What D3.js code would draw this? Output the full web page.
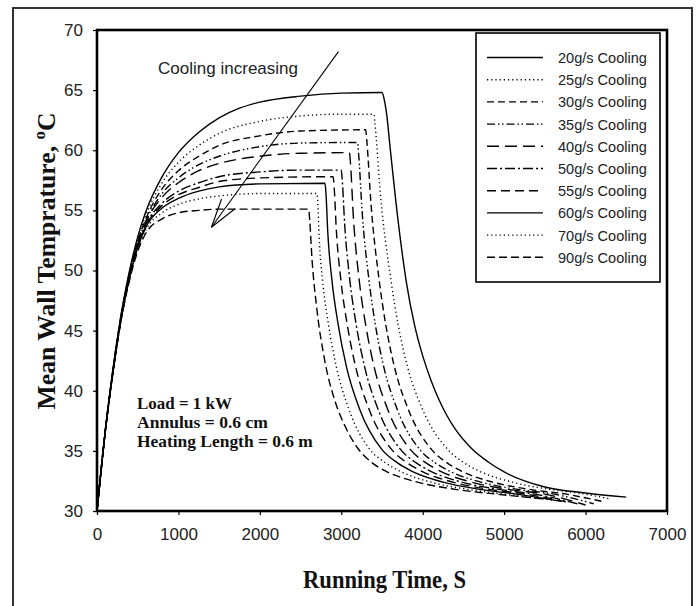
<!DOCTYPE html>
<html><head><meta charset="utf-8">
<script src="https://cdn.jsdelivr.net/npm/d3@7"></script>
<style>body{margin:0;background:#fff}svg{display:block}</style>
</head><body>
<svg id="chart" width="696" height="606"></svg>
<script>
// ---------- data ----------
const seriesNames = ["20g/s Cooling","25g/s Cooling","30g/s Cooling","35g/s Cooling","40g/s Cooling",
  "50g/s Cooling","55g/s Cooling","60g/s Cooling","70g/s Cooling","90g/s Cooling"];
const xTicks = [0,1000,2000,3000,4000,5000,6000,7000];
const yTicks = [30,35,40,45,50,55,60,65,70];

const s20 = [[0,30],[100,36.6],[200,42.0],[300,46.5],[400,50.0],[500,52.8],[600,54.9],[800,57.8],[1000,59.8],[1250,61.5],[1500,62.7],[1750,63.5],[2000,64.0],[2500,64.5],[3000,64.75],[3500,64.8],
  [3525,64.3],[3557,63.0],[3600,60.2],[3700,54.0],[3800,49.0],[3900,45.45],[4000,42.9],[4100,40.9],[4200,39.25],[4300,37.9],[4400,36.8],[4600,35.2],[4800,34.1],[5000,33.25],[5500,32.0],[6000,31.5],[6500,31.15]];
const s25 = [[0,30],[100,36.6],[200,42.0],[300,46.5],[400,49.9],[500,52.6],[600,54.6],[800,57.3],[1000,59.0],[1250,60.4],[1500,61.4],[2000,62.4],[2500,62.85],[3000,63.0],[3400,63.0],
  [3412,62.3],[3484,56.1],[3610,49.2],[3698,45.5],[3813,42.0],[3995,38.5],[4310,35.1],[4510,34.0],[4700,33.3],[5100,32.4],[5560,31.8],[6000,31.4],[6300,31.0]];
const s30 = [[0,30],[100,36.6],[200,41.9],[300,46.4],[400,49.8],[500,52.4],[600,54.3],[800,56.8],[1000,58.3],[1250,59.5],[1500,60.4],[2000,61.2],[2500,61.6],[3300,61.7],
  [3312,60.9],[3366,55.45],[3465,49.2],[3546,45.5],[3652,42.0],[3820,38.5],[4110,35.1],[4300,34.0],[4480,33.3],[4860,32.4],[5310,31.8],[5760,31.4],[6200,30.8]];
const s35 = [[0,30],[100,36.6],[200,41.9],[300,46.3],[400,49.7],[500,52.3],[600,54.1],[800,56.4],[1000,57.7],[1250,58.8],[1500,59.5],[2000,60.3],[2500,60.6],[3200,60.65],
  [3212,59.8],[3256,54.9],[3340,49.2],[3418,45.5],[3521,42.0],[3684,38.5],[3965,35.1],[4155,34.0],[4335,33.3],[4715,32.4],[5165,31.8],[5615,31.4],[6100,30.6]];
const s40 = [[0,30],[100,36.5],[200,41.8],[300,46.2],[400,49.6],[500,52.2],[600,54.0],[800,56.1],[1000,57.3],[1250,58.3],[1500,58.9],[2000,59.5],[2500,59.75],[3100,59.8],
  [3112,59.0],[3148,54.5],[3220,49.2],[3299,45.5],[3403,42.0],[3567,38.5],[3850,35.1],[4040,34.0],[4220,33.3],[4600,32.4],[5050,31.8],[5500,31.4],[6000,30.5]];
const s50 = [[0,30],[100,36.5],[200,41.8],[300,46.2],[400,49.5],[500,52.1],[600,53.8],[800,55.6],[1000,56.6],[1250,57.3],[1500,57.8],[2000,58.2],[2500,58.35],[3000,58.35],
  [3012,57.5],[3042,53.8],[3105,49.2],[3183,45.5],[3286,42.0],[3449,38.5],[3730,35.1],[3920,34.0],[4100,33.3],[4480,32.4],[4930,31.8],[5380,31.4],[5900,30.6]];
const s55 = [[0,30],[100,36.5],[200,41.8],[300,46.1],[400,49.5],[500,52.0],[600,53.7],[800,55.4],[1000,56.3],[1250,56.9],[1500,57.4],[2000,57.7],[2900,57.8],
  [2912,57.0],[2938,53.5],[2995,49.2],[3073,45.5],[3176,42.0],[3339,38.5],[3620,35.1],[3810,34.0],[3990,33.3],[4370,32.4],[4820,31.8],[5270,31.4],[5800,30.7]];
const s60 = [[0,30],[100,36.5],[200,41.7],[300,46.1],[400,49.4],[500,51.9],[600,53.6],[800,55.2],[1000,56.0],[1250,56.6],[1500,56.95],[2000,57.2],[2800,57.25],
  [2812,56.4],[2834,53.2],[2885,49.2],[2962,45.5],[3063,42.0],[3223,38.5],[3500,35.1],[3690,34.0],[3870,33.3],[4250,32.4],[4700,31.8],[5150,31.4],[5700,30.8]];
const s70 = [[0,30],[100,36.5],[200,41.7],[300,46.0],[400,49.3],[500,51.8],[600,53.4],[800,54.8],[1000,55.5],[1250,55.95],[1500,56.2],[2000,56.4],[2700,56.4],
  [2712,55.6],[2728,52.8],[2770,49.2],[2843,45.5],[2939,42.0],[3091,38.5],[3353,35.1],[3543,34.0],[3723,33.3],[4103,32.4],[4553,31.8],[5003,31.4],[5600,30.9]];
const s90 = [[0,30],[100,36.5],[200,41.7],[300,46.0],[400,49.2],[500,51.6],[600,53.1],[800,54.3],[1000,54.8],[1250,55.0],[1500,55.1],[2600,55.1],
  [2612,54.2],[2640,51.0],[2700,46.8],[2800,42.4],[2920,39.2],[3050,37.0],[3205,35.2],[3380,34.0],[3550,33.3],[3880,32.5],[4400,31.8],[4910,31.4],[5500,31.0]];
const allSeries = [s20,s25,s30,s35,s40,s50,s55,s60,s70,s90];

// annotation data (data units)
const arrowFrom = [2965, 68.2];
const arrowTo = [1405, 53.6];
const notes = ["Load = 1 kW","Annulus = 0.6 cm","Heating Length = 0.6 m"];

// ---------- styles ----------
const dashes = ["none","1.2,3","7,4","8,3,1.5,2.5,1.5,3","12,6","10,3,2,3","9,5","none","1.2,3","8,4"];

// ---------- layout ----------
const svg = d3.select("#chart");
const L = 97, R = 667, T = 30, B = 511;
const x = d3.scaleLinear().domain([0,7000]).range([L,R]);
const y = d3.scaleLinear().domain([30,70]).range([B,T]);
const sans = "'Liberation Sans', Arial, sans-serif";
const serif = "'Liberation Serif', 'Times New Roman', serif";

function fit(sel, width){
  sel.each(function(){
    const n = this; const len = n.getComputedTextLength();
    const k = width/len;
    const tr = d3.select(n).attr("transform") || "";
    d3.select(n).attr("transform", tr + ` scale(${k},1)`);
  });
}

// outer frame
svg.append("rect").attr("x",13).attr("y",8).attr("width",679).attr("height",610)
  .attr("fill","none").attr("stroke","#333").attr("stroke-width",2);

// axes
const gy = svg.append("g").attr("transform",`translate(${L},0)`)
  .call(d3.axisLeft(y).tickValues(yTicks).tickSize(4).tickPadding(10).tickSizeOuter(0).tickFormat(d3.format("d")));
const gx = svg.append("g").attr("transform",`translate(0,${B})`)
  .call(d3.axisBottom(x).tickValues(xTicks).tickSize(4).tickPadding(13).tickSizeOuter(0).tickFormat(d3.format("d")));
[gx,gy].forEach(g=>{
  g.select(".domain").remove();
  g.selectAll("line").attr("stroke","#000").attr("stroke-width",1.2);
  g.selectAll("text").attr("font-family",sans).attr("font-size",17).attr("fill","#222");
});

// clip
svg.append("clipPath").attr("id","clip").append("rect").attr("x",L).attr("y",T).attr("width",R-L).attr("height",B-T);

// curves
const line = d3.line().x(d=>x(d[0])).y(d=>y(d[1])).curve(d3.curveMonotoneX);
svg.append("g").attr("clip-path","url(#clip)").selectAll("path").data(allSeries).join("path")
  .attr("d",line).attr("fill","none").attr("stroke","#000").attr("stroke-width",1.4)
  .attr("stroke-dasharray",(d,i)=>dashes[i]);

// plot frame
svg.append("rect").attr("x",L).attr("y",T).attr("width",R-L).attr("height",B-T)
  .attr("fill","none").attr("stroke","#000").attr("stroke-width",2.6);

// legend
const lg = svg.append("g");
lg.append("rect").attr("x",476).attr("y",33).attr("width",184).attr("height",249)
  .attr("fill","#fff").attr("stroke","#000").attr("stroke-width",1.6);
seriesNames.forEach((nm,i)=>{
  const yy = 57.5 + i*22.2;
  lg.append("line").attr("x1",487).attr("x2",543).attr("y1",yy).attr("y2",yy)
    .attr("stroke","#000").attr("stroke-width",1.4).attr("stroke-dasharray",dashes[i]);
  lg.append("text").attr("transform",`translate(558,${yy+5.5})`).attr("font-family",sans)
    .attr("font-size",15).attr("fill","#222").text(nm).call(fit,89);
});

// arrow
const ax1 = x(arrowFrom[0]), ay1 = y(arrowFrom[1]), ax2 = x(arrowTo[0]), ay2 = y(arrowTo[1]);
svg.append("line").attr("x1",ax1).attr("y1",ay1).attr("x2",ax2).attr("y2",ay2)
  .attr("stroke","#000").attr("stroke-width",1.1);
const ang = Math.atan2(ay1-ay2, ax1-ax2);
[-0.28,0.28].forEach(a=>{
  svg.append("line").attr("x1",ax2).attr("y1",ay2)
    .attr("x2",ax2+30*Math.cos(ang+a)).attr("y2",ay2+30*Math.sin(ang+a))
    .attr("stroke","#000").attr("stroke-width",1.1);
});
svg.append("text").attr("transform",`translate(${x(750)},${y(66.3)})`).attr("font-family",sans)
  .attr("font-size",17).attr("fill","#222").text("Cooling increasing").call(fit,140);

// notes
const noteW = [95,131,176];
notes.forEach((t,i)=>{
  svg.append("text").attr("transform",`translate(137,${409+i*19})`).attr("font-family",serif)
    .attr("font-weight","bold").attr("font-size",17).attr("fill","#111").text(t).call(fit,noteW[i]);
});

// axis titles
svg.append("text").attr("transform","translate(384.5,588)").attr("text-anchor","middle")
  .attr("font-family",serif).attr("font-weight","bold").attr("font-size",26).attr("fill","#111")
  .text("Running Time, S").call(fit,163);
const yl = svg.append("text").attr("transform","translate(55,261) rotate(-90)").attr("text-anchor","middle")
  .attr("font-family",serif).attr("font-weight","bold").attr("font-size",26).attr("fill","#111");
yl.append("tspan").text("Mean Wall Temprature, ");
yl.append("tspan").attr("font-size",17).attr("dy",-10).text("o");
yl.append("tspan").attr("dy",10).text("C");
yl.call(fit,297);
</script>
</body></html>
